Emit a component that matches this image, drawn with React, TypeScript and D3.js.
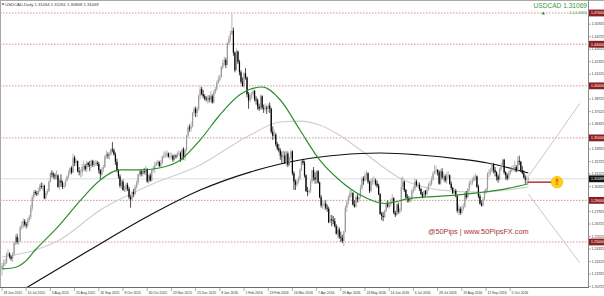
import React from "react";
import * as d3 from "d3";

const W = 604;
const H = 296;
const PLOT_R = 588;
const PLOT_B = 287;

// Daily prices in 1e-4 units (12270 = 1.2270). Open = previous close.
const firstOpen = 12250;
const closes = [
  12270,12290,12300,12380,12390,12360,12340,12380,12490,
  12550,12500,12510,12640,12650,12700,12670,12660,12710,12740,12830,12930,12980,12970,12960,12990,13040,13030,13040,12920,12970,12990,13080,
  13160,13150,13140,13130,13140,13030,13090,13070,13030,13040,13090,13130,13160,13210,13170,13310,13260,13280,13180,13170,13170,
  13220,13230,13200,13260,13240,13230,13280,13240,13250,13260,13250,13190,13150,13200,13220,13320,13340,13330,13340,13390,13380,13340,
  13270,13190,13130,13040,13080,13000,13000,13050,13010,12930,12910,12980,12960,13030,13070,13150,13180,13150,13180,13170,13200,13080,
  13140,13090,13190,13200,13240,13260,13270,13230,13260,13320,13330,13340,13350,13320,13320,13330,13290,13330,13320,13350,13350,
  13290,13390,13310,13380,13520,13600,13590,13610,13740,13780,13740,13780,13900,13970,13920,13900,13880,13870,13880,13870,13900,13840,
  13940,13970,14030,14060,14080,14180,14220,14250,14200,14410,14450,14500,14530,14320,14150,14330,14230,14130,14040,14000,
  14120,14080,13920,13860,13910,13920,13950,13870,13860,13800,13780,13900,13790,13780,13790,13780,13810,13780,13560,13520,13530,
  13440,13400,13380,13330,13320,13330,13260,13350,13240,13310,13370,13160,13080,13050,13080,13110,13190,13280,13260,13140,12990,12980,12990,
  13080,13190,13120,13100,13180,13070,12930,12850,12850,12870,12830,12820,12690,12720,12710,12700,12650,12580,12620,12550,12540,
  12510,12600,12830,12880,12930,12970,12970,12860,12840,12930,12910,12930,13020,13110,13090,13140,13160,13080,12990,13090,13090,13090,
  13060,13040,12960,12770,12750,12740,12800,12870,12840,12860,12890,12920,12780,12760,12860,12790,12810,13030,13080,13000,12930,12920,
  12900,12910,12990,13010,13080,13050,13050,13010,12960,12930,12990,12960,13000,13050,13060,13100,13160,13180,13190,13170,13060,
  13180,13120,13130,13090,13140,13140,13060,13020,12970,12990,12940,12800,12820,12780,12820,12840,12970,12930,13010,13070,13070,13090,13120,
  13130,13030,12940,12870,12850,12910,12990,13010,13160,13170,13180,13250,13190,13170,13130,13100,13200,13240,13290,13170,13140,13110,
  13160,13190,13200,13200,13220,13180,13280,13270,13190,13160,13120,13100,13105,13107,
];
const highs = [
  12300,12330,12340,12400,12430,12400,12370,12400,12510,
  12570,12580,12540,12660,12700,12730,12720,12690,12730,12760,12860,12950,13000,13000,12990,13020,13060,13070,13070,13050,12990,13010,13090,
  13170,13190,13170,13160,13190,13150,13110,13150,13090,13070,13100,13140,13190,13220,13230,13350,13330,13300,13280,13220,13200,
  13250,13280,13250,13280,13270,13280,13290,13290,13280,13290,13280,13270,13200,13220,13240,13340,13380,13360,13370,13400,13460,13400,
  13360,13300,13200,13150,13100,13100,13040,13070,13070,13030,12950,12990,13010,13050,13090,13160,13200,13200,13190,13210,13230,13210,
  13150,13160,13200,13230,13270,13280,13290,13280,13290,13330,13370,13370,13380,13360,13360,13360,13340,13350,13340,13370,13380,
  13370,13400,13410,13400,13530,13620,13630,13650,13750,13800,13800,13800,13920,14000,13990,13960,13920,13900,13910,13910,13950,13920,
  13960,13990,14050,14100,14110,14190,14250,14280,14270,14420,14480,14530,14690,14560,14330,14360,14340,14250,14150,14080,
  14130,14170,14090,13940,13930,13940,13980,13960,13900,13880,13830,13920,13910,13820,13830,13810,13830,13840,13790,13610,13580,
  13550,13460,13440,13400,13370,13380,13370,13380,13370,13320,13390,13380,13180,13100,13100,13130,13210,13290,13300,13280,13150,13030,13010,
  13100,13190,13220,13170,13190,13190,13080,12950,12900,12900,12900,12860,12840,12760,12760,12750,12730,12670,12660,12640,12600,
  12570,12610,12850,12900,12950,13000,13000,12980,12900,12950,12960,12960,13050,13130,13130,13170,13190,13170,13090,13110,13120,13130,
  13110,13090,13060,12970,12790,12790,12810,12890,12900,12890,12920,12960,12930,12800,12870,12880,12830,13120,13130,13090,13010,12960,
  12940,12930,13010,13040,13110,13100,13080,13070,13020,12980,13000,13000,13030,13070,13090,13130,13180,13240,13230,13200,13190,
  13200,13210,13170,13150,13170,13180,13150,13080,13030,13010,13010,12950,12860,12840,12850,12870,12980,12990,13020,13090,13100,13120,13140,
  13160,13140,13050,12960,12900,12930,13000,13020,13170,13200,13210,13260,13260,13220,13180,13150,13210,13260,13300,13300,13180,13160,
  13180,13210,13230,13240,13280,13240,13320,13330,13280,13230,13190,13140,13140,13126,
];
const lows = [
  12180,12240,12270,12290,12360,12340,12320,12310,12370,
  12470,12480,12470,12500,12620,12630,12650,12630,12640,12690,12720,12800,12910,12950,12940,12950,12980,13010,12990,12910,12910,12950,12980,
  13070,13120,13110,13100,13100,13020,13000,13030,13010,13010,13030,13080,13110,13150,13150,13160,13230,13230,13170,13140,13120,
  13130,13180,13180,13170,13220,13180,13210,13220,13220,13230,13230,13160,13100,13130,13170,13210,13300,13300,13290,13330,13360,13330,
  13240,13170,13110,13020,13010,12990,12980,12980,12990,12910,12830,12900,12930,12950,13010,13050,13130,13130,13130,13150,13140,13070,
  13060,13080,13080,13170,13160,13230,13240,13220,13220,13250,13300,13310,13310,13310,13290,13300,13270,13280,13300,13310,13330,
  13270,13280,13290,13280,13370,13500,13560,13560,13600,13710,13700,13700,13760,13870,13910,13880,13860,13850,13830,13840,13850,13830,
  13830,13920,13950,14020,14040,14080,14160,14190,14170,14200,14390,14420,14490,14290,14130,14150,14210,14100,14020,13990,
  13980,14060,13890,13780,13840,13870,13890,13850,13820,13770,13760,13770,13770,13740,13760,13730,13750,13740,13540,13480,13490,
  13420,13380,13360,13290,13250,13260,13250,13230,13220,13230,13290,13140,13000,13000,13030,13060,13090,13180,13240,13120,12980,12940,12960,
  12970,13060,13090,13060,13060,13060,12920,12830,12820,12810,12810,12790,12680,12680,12650,12670,12640,12570,12540,12530,12500,
  12490,12460,12590,12790,12860,12900,12930,12850,12830,12830,12880,12880,12920,13000,13050,13080,13100,13060,12970,12980,13050,13050,
  13040,13020,12950,12760,12710,12700,12730,12790,12830,12820,12840,12870,12770,12740,12750,12770,12770,12790,13000,12980,12920,12880,
  12880,12880,12900,12970,12990,13030,13020,12990,12950,12920,12920,12940,12950,12990,13030,13040,13090,13150,13150,13140,13050,
  13050,13100,13080,13070,13060,13110,13050,13000,12960,12960,12930,12780,12760,12760,12770,12800,12830,12910,12920,12990,13040,13050,13080,
  13090,13020,12920,12860,12840,12840,12900,12960,12990,13120,13140,13170,13160,13130,13090,13070,13090,13180,13220,13150,13100,13090,
  13100,13140,13170,13180,13170,13170,13170,13240,13170,13150,13110,13060,13060,13085,
];

// Moving averages: [bar index, price]
const ma50 = [
  [0,1.2241],[7,1.2250],[15,1.2308],[22,1.2423],[38,1.2663],[52,1.2903],[65,1.3096],[78,1.3192],
  [91,1.3192],[104,1.3211],[118,1.3288],[131,1.3480],[144,1.3720],[157,1.3912],[172,1.3989],
  [184,1.3864],[197,1.3576],[210,1.3288],[223,1.3096],[237,1.2951],[253,1.2870],[270,1.2920],
  [290,1.2940],[316,1.2975],[329,1.3000],[348,1.3060],
];
const ma100 = [
  [0,1.2356],[22,1.2423],[38,1.2519],[65,1.2807],[98,1.3048],[131,1.3240],[164,1.3528],
  [184,1.3653],[197,1.3662],[210,1.3624],[223,1.3528],[237,1.3384],[263,1.3115],[290,1.2999],
  [316,1.2980],[348,1.3030],
];
const ma200 = [
  [0,1.1920],[17,1.2068],[58,1.2423],[98,1.2759],[131,1.2999],[164,1.3172],[197,1.3288],
  [223,1.3336],[250,1.3355],[276,1.3336],[303,1.3297],[321,1.3259],[348,1.3163],
];

const dateLabels = [
  "18 Jun 2015","10 Jul 2015","3 Aug 2015","25 Aug 2015","16 Sep 2015","8 Oct 2015",
  "30 Oct 2015","23 Nov 2015","15 Dec 2015","8 Jan 2016","1 Feb 2016","23 Feb 2016",
  "16 Mar 2016","7 Apr 2016","29 Apr 2016","23 May 2016","14 Jun 2016","6 Jul 2016",
  "28 Jul 2016","19 Aug 2016","12 Sep 2016","5 Oct 2016",
];
const priceTicks = [
  1.20725,1.21925,1.23125,1.24325,1.25525,1.26725,1.27925,1.29125,1.30325,1.31525,1.32725,
  1.33925,1.35125,1.36325,1.37525,1.38725,1.39925,1.41125,1.42325,1.43525,1.44725,1.45925,
];
const levels = [1.47, 1.44, 1.40, 1.35, 1.29, 1.25];
const lastPrice = 1.31069;
const targetPrice = 1.3075;
const fanUpper = [[348, 1.3130], [382, 1.3830]];
const fanLower = [[348, 1.2960], [382, 1.2300]];

const FONT = "'Liberation Sans', Arial, sans-serif";

export default function App() {
  const x = d3.scaleLinear().domain([0, 348]).range([2, 528.35]);
  const y = d3.scaleLinear().domain([1.25, 1.47]).range([242, 13]);

  const candles = closes.map((cv, i) => {
    const o = (i === 0 ? firstOpen : closes[i - 1]) / 10000;
    const c = cv / 10000;
    const h = Math.max(highs[i] / 10000, o, c);
    const l = Math.min(lows[i] / 10000, o, c);
    return { i, o, c, h, l, up: c >= o };
  });

  const line = d3
    .line<number[]>()
    .x((d) => x(d[0]))
    .y((d) => y(d[1]))
    .curve(d3.curveMonotoneX);
  const straight = d3
    .line<number[]>()
    .x((d) => x(d[0]))
    .y((d) => y(d[1]));

  const lastBar = closes.length - 1;

  return (
    <svg
      width={W}
      height={H}
      style={{ position: "absolute", left: 0, top: 0, background: "#fff" }}
      fontFamily={FONT}
    >
      <defs>
        <clipPath id="plot">
          <rect x={0} y={0} width={PLOT_R} height={PLOT_B} />
        </clipPath>
      </defs>
      <rect x={0} y={0} width={W} height={H} fill="#fff" />

      <g clipPath="url(#plot)">
        {/* bid line */}
        <line x1={0} x2={PLOT_R} y1={y(lastPrice)} y2={y(lastPrice)} stroke="#d6d6d6" strokeWidth={0.8} />
        {/* horizontal levels */}
        {levels.map((lv) => (
          <line
            key={lv}
            x1={0}
            x2={PLOT_R}
            y1={y(lv)}
            y2={y(lv)}
            stroke="#c47a7a"
            strokeWidth={0.8}
            strokeDasharray="1.5,1.5"
          />
        ))}
        {/* moving averages */}
        <path d={line(ma100) || ""} fill="none" stroke="#cfcfcf" strokeWidth={1.2} />
        <path d={line(ma200) || ""} fill="none" stroke="#111" strokeWidth={1.2} />
        {/* candles */}
        {candles.map((d) => {
          const col = d.up ? "#9a9a9a" : "#000";
          const top = y(Math.max(d.o, d.c));
          const bot = y(Math.min(d.o, d.c));
          return (
            <g key={d.i}>
              <line x1={x(d.i)} x2={x(d.i)} y1={y(d.h)} y2={y(d.l)} stroke={col} strokeWidth={0.7} />
              <rect x={x(d.i) - 0.6} y={top} width={1.2} height={Math.max(0.6, bot - top)} fill={col} />
            </g>
          );
        })}
        <path d={line(ma50) || ""} fill="none" stroke="#2f8f2f" strokeWidth={1.2} />
        {/* projection fan */}
        <path d={straight(fanUpper) || ""} fill="none" stroke="#c8c8c8" strokeWidth={1} />
        <path d={straight(fanLower) || ""} fill="none" stroke="#c8c8c8" strokeWidth={1} />
        {/* target line and marker */}
        <line x1={x(lastBar) - 1} x2={557} y1={y(targetPrice)} y2={y(targetPrice)} stroke="#a01818" strokeWidth={1.3} />
      </g>

      <circle cx={557} cy={y(targetPrice)} r={5.8} fill="#ffd21a" stroke="#f0b000" strokeWidth={0.6} />
      <g stroke="#e06a00" strokeWidth={0.8} fill="none">
        <circle cx={557} cy={y(targetPrice) - 2.6} r={0.9} fill="#e06a00" />
        <line x1={557} x2={557} y1={y(targetPrice) - 1.6} y2={y(targetPrice) + 1.2} />
        <line x1={555.3} x2={558.7} y1={y(targetPrice) - 0.8} y2={y(targetPrice) - 0.8} />
        <line x1={557} x2={555.8} y1={y(targetPrice) + 1.2} y2={y(targetPrice) + 3} />
        <line x1={557} x2={558.2} y1={y(targetPrice) + 1.2} y2={y(targetPrice) + 3} />
      </g>

      {/* frame & axes */}
      <line x1={0} x2={W} y1={0.5} y2={0.5} stroke="#a8a8a8" strokeWidth={1} />
      <line x1={0.5} x2={0.5} y1={0} y2={PLOT_B} stroke="#a8a8a8" strokeWidth={1} />
      <line x1={PLOT_R + 0.5} x2={PLOT_R + 0.5} y1={0} y2={PLOT_B + 0.5} stroke="#8a8a8a" strokeWidth={1} />
      <line x1={0} x2={PLOT_R + 1} y1={PLOT_B + 0.5} y2={PLOT_B + 0.5} stroke="#6a6a6a" strokeWidth={1} />

      {/* date axis */}
      {dateLabels.map((t, k) => {
        const xi = x(k * 16);
        return (
          <g key={t}>
            <line x1={xi} x2={xi} y1={PLOT_B + 1} y2={PLOT_B + 4} stroke="#777" strokeWidth={0.6} />
            <text x={xi + 1.4} y={293.6} fontSize={3.4} fill="#333">
              {t}
            </text>
          </g>
        );
      })}

      {/* price axis */}
      {priceTicks.map((p) => (
        <g key={p}>
          <line x1={PLOT_R + 1} x2={PLOT_R + 3} y1={y(p)} y2={y(p)} stroke="#777" strokeWidth={0.6} />
          <text x={PLOT_R + 3.6} y={y(p) + 1.3} fontSize={3.5} fill="#333">
            {p.toFixed(5)}
          </text>
        </g>
      ))}
      {levels.map((lv) => (
        <g key={"lb" + lv}>
          <rect x={PLOT_R + 1} y={y(lv) - 3.4} width={15} height={6.8} fill="#8e1f1f" />
          <text x={PLOT_R + 3} y={y(lv) + 1.3} fontSize={3.6} fill="#fff">
            {lv.toFixed(5)}
          </text>
        </g>
      ))}
      <rect x={PLOT_R + 1} y={y(lastPrice) - 3.4} width={15} height={6.8} fill="#111" />
      <text x={PLOT_R + 3} y={y(lastPrice) + 1.3} fontSize={3.6} fill="#fff">
        {lastPrice.toFixed(5)}
      </text>

      {/* header texts */}
      <path d="M1.6,3.4 L4.4,3.4 L3,5.2 Z" fill="#333" />
      <text x={5.2} y={5.6} fontSize={4.2} fill="#333">
        USDCAD,Daily  1.31054 1.31261 1.30848 1.31069
      </text>
      <text x={587} y={8} fontSize={6.6} fill="#3a9a3a" textAnchor="end">
        USDCAD  1.31069
      </text>
      <path d="M541.6,14.6 L545,14.6 L543.3,11.6 Z" fill="#2f8f2f" />
      <text x={587} y={14.4} fontSize={3.8} fill="#3a9a3a" textAnchor="end">
        1 (-0.03%)
      </text>

      {/* watermark */}
      <text x={428} y={233.5} fontSize={7.3} fill="#a83232">
        @50Pips | www.50PipsFX.com
      </text>
    </svg>
  );
}
